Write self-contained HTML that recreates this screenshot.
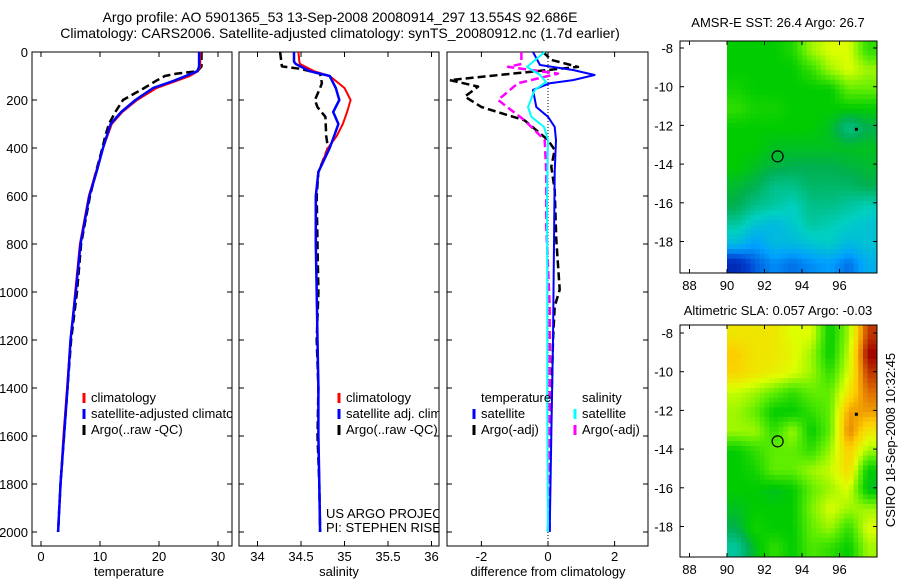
<!DOCTYPE html>
<html><head><meta charset="utf-8">
<style>
body{margin:0;background:#fff;}
svg{display:block;font-family:"Liberation Sans",sans-serif;}
text{font-size:13px;fill:#000;}
</style></head>
<body>
<svg id="fig" width="900" height="580" viewBox="0 0 900 580">
<defs>
<clipPath id="clip1"><rect x="32" y="52" width="200" height="494"/></clipPath>
<clipPath id="clip2"><rect x="239" y="52" width="200" height="494"/></clipPath>
</defs>
<text x="340" y="22" text-anchor="middle" style="font-size:14px">Argo profile: AO 5901365_53 13-Sep-2008 20080914_297 13.554S 92.686E</text>
<text x="340" y="38" text-anchor="middle" style="font-size:14px">Climatology: CARS2006. Satellite-adjusted climatology: synTS_20080912.nc (1.7d earlier)</text>
<text x="778" y="27" text-anchor="middle">AMSR-E SST: 26.4  Argo: 26.7</text>
<text x="778" y="315" text-anchor="middle">Altimetric SLA: 0.057  Argo: -0.03</text>
<text transform="translate(895,440) rotate(-90)" text-anchor="middle">CSIRO 18-Sep-2008 10:32:45</text>
<g id="g"></g>
</svg>
<script>
// ---------- profile data ----------
const tDepth = [0,20,60,80,100,120,150,200,250,300,400,500,600,800,1000,1200,1400,1600,1800,2000];
const tClim  = [27,27,27,26.6,25.2,23,19.6,16.3,13.8,12,10.5,9.3,8.1,6.6,5.8,5.0,4.4,3.8,3.3,2.9];
const tSat   = [26.8,26.8,26.8,26.5,24.5,22.5,19,16,13.6,11.8,10.5,9.4,8.2,6.7,5.9,5.0,4.5,3.9,3.3,2.9];
const aDepth = [0,60,80,90,100,120,150,200,250,300,350,400,500,600,800,1000,1200,1400,1600,1800,2000];
const tArgo  = [27.2,27.2,26.5,23,21,19.5,17.5,13.9,12.6,11.5,10.9,10.4,9.3,8.3,6.8,6.1,5.1,4.5,3.9,3.3,2.9];
const sDepth = [0,40,50,80,100,150,200,250,300,350,400,500,600,800,1000,1200,1400,1600,1800,2000];
const sClim  = [34.47,34.48,34.49,34.65,34.83,35.0,35.07,35.03,34.98,34.91,34.81,34.7,34.67,34.67,34.68,34.69,34.7,34.7,34.71,34.72];
const sSat   = [34.42,34.42,34.44,34.6,34.83,34.9,34.94,34.87,34.93,34.88,34.83,34.7,34.67,34.67,34.68,34.69,34.7,34.7,34.71,34.72];
const saDepth= [0,60,70,90,130,150,200,230,270,350,400,500,600,800,1000,1200,1400,1600,1800,2000];
const sArgo  = [34.26,34.28,34.49,34.72,34.74,34.72,34.66,34.69,34.78,34.79,34.81,34.7,34.68,34.69,34.7,34.68,34.7,34.69,34.71,34.72];
// differences from climatology
const dtsDepth=[0,54,75,96,117,130,158,229,270,312,367,500,800,1200,1600,2000];
const dTempSat=[-0.45,-0.24,0.75,1.4,0.75,0.06,-0.45,-0.35,0,0.2,0.24,0.2,0.18,0.15,0.1,0.05];
const dssDepth=[0,62,96,125,158,229,270,312,367,600,1000,1500,2000];
const dSalSat =[-0.1,-0.63,-0.24,-0.06,-0.4,-0.6,-0.5,-0.12,0,-0.03,-0.02,-0.02,0];
const dtaDepth=[0,33,62,117,144,186,229,285,367,408,478,576,783,990,1060,1200,1478,1686,2000];
const dTempArgo=[-0.15,0.1,0.9,-2.95,-2.1,-2.5,-2.0,-0.7,0,0.2,0.1,0.2,0.25,0.35,0.2,0.15,0.1,0.05,0];
const dsaDepth=[0,50,62,90,130,200,243,285,367,506,728,1060,1500,2000];
const dSalArgo=[-0.8,-0.8,-1.2,0.3,-0.9,-1.5,-1.1,-0.7,-0.1,-0.05,-0.05,0.05,0.05,0.05];
const depthTicks=[0,200,400,600,800,1000,1200,1400,1600,1800,2000];
const tempTicks=[0,10,20,30];
const salTicks=["34","34.5","35","35.5","36"];
const diffTicks=[-2,0,2];
// ---------- map data (1-degree cells, rows lat -8..-19, cols lon 90..97), colour index 0..10 ----------
const sstGrid=[
[5,5,5,5.3,6.5,7,7,5.5],
[5,5,5,5,5.5,6.5,7,6.5],
[5.2,5,5,5,5,5,6,6],
[5.5,5.2,5.2,5,5,5,5,5],
[5,5,5,5,5,4.8,4,4.5],
[5,5,4.8,4.8,4.8,4.8,4.8,4.8],
[5,4.8,4.6,4.5,4.5,4.5,4.6,4.7],
[4.7,4.5,4,4,4.3,4.3,4.3,4.5],
[4.5,4,3.8,3.5,4,4,3.8,3.6],
[3.8,3.2,3,3.3,3.8,3.6,3.4,3.2],
[3,2.5,3,3,3.2,3.4,3,3.2],
[1,1.8,2.3,2,2.3,2.5,2,2.8]];
const slaGrid=[
[7.5,7.5,7.5,7,7,5,6.5,9.5],
[8,7.5,7.5,7.2,6.5,5,6.8,10],
[7.8,7.5,7.3,7,6.5,5.5,7,9.5],
[6.8,6.5,6,5.5,6,6,7.5,9],
[6.5,6,5,5,5.5,6,8.5,8.5],
[6.5,6.5,5.5,6.5,5,6,8.8,7.5],
[5,5.5,6,6,5.5,6.5,8,6.5],
[5,5.2,6,6,6.5,6.8,7.8,5],
[5,5,4.8,5,6,6.5,7,4.8],
[4.8,5,5,5,6.2,7,6.5,6.5],
[4.5,5.2,5,5,6,6.5,5.5,7],
[3.8,4.8,5.5,5,5.8,5.5,5,6.5]];
const lonTicks=[88,90,92,94,96];
const latTicks=[-8,-10,-12,-14,-16,-18];
const floatLon=92.7, floatLat=-13.6;

const NS="http://www.w3.org/2000/svg";
const G=document.getElementById('g');
function el(tag,attrs,parent){const e=document.createElementNS(NS,tag);for(const k in attrs)e.setAttribute(k,attrs[k]);(parent||G).appendChild(e);return e;}
function txt(x,y,s,anchor,name,parent){const t=el('text',{x:x,y:y,'text-anchor':anchor||'middle'},parent);t.textContent=s;


return t;}

const PY0=52, PYB=546;
const yD=d=>PY0+d*0.24;
const xT=v=>41+5.9*v;
const xS=v=>257.5+87*(v-34);
const xDf=v=>548+33.3*v;

function panel(x0,x1,name){
  const r=el('rect',{x:x0,y:PY0,width:x1-x0,height:PYB-PY0,fill:'none',stroke:'#000','stroke-width':1});
  
  
  depthTicks.forEach(d=>{const y=yD(d);
    el('line',{x1:x0,x2:x0+5,y1:y,y2:y,stroke:'#000'});el('line',{x1:x1,x2:x1-5,y1:y,y2:y,stroke:'#000'});});
}
function xticks(vals,fx){vals.forEach(v=>{const x=fx(+v);
  el('line',{x1:x,x2:x,y1:PYB,y2:PYB-5,stroke:'#000'});el('line',{x1:x,x2:x,y1:PY0,y2:PY0+5,stroke:'#000'});
  txt(x,561,String(v),'middle','x-tick-label');});}
function series(depths,vals,fx,color,w,dash,name){
  const pts=depths.map((d,i)=>fx(vals[i]).toFixed(1)+','+yD(d).toFixed(1)).join(' ');
  const p=el('polyline',{points:pts,fill:'none',stroke:color,'stroke-width':w,'stroke-dasharray':dash||'none','stroke-linejoin':'round'});
  
  
}
// panel 1
panel(32,232,'temperature-panel');
depthTicks.forEach(d=>txt(28,yD(d)+5,String(d),'end','y-tick-label'));
xticks(tempTicks,xT);
txt(129,576,'temperature','middle','x-axis-title-temperature');
series(aDepth,tArgo,xT,'#000',2.5,'8,4','temperature-argo-line');
series(tDepth,tClim,xT,'#ff0000',2,null,'temperature-climatology-line');
series(tDepth,tSat,xT,'#0000ff',2.5,null,'temperature-satellite-line');
// panel 2
panel(239,439,'salinity-panel');
xticks(salTicks,xS);
txt(339,576,'salinity','middle','x-axis-title-salinity');
series(saDepth,sArgo,xS,'#000',2.5,'8,4','salinity-argo-line');
series(sDepth,sClim,xS,'#ff0000',2,null,'salinity-climatology-line');
series(sDepth,sSat,xS,'#0000ff',2.5,null,'salinity-satellite-line');
// panel 3
panel(447,648,'difference-panel');
xticks(diffTicks,xDf);
el('line',{x1:xDf(0),x2:xDf(0),y1:PY0,y2:PYB,stroke:'#000','stroke-dasharray':'1,2'});
txt(548,576,'difference from climatology','middle','x-axis-title-difference');
series(dtaDepth,dTempArgo,xDf,'#000',2.5,'8,4','temp-argo-diff-line');
series(dsaDepth,dSalArgo,xDf,'#ff00ff',2.5,'8,4','sal-argo-diff-line');
series(dtsDepth,dTempSat,xDf,'#0000ff',2,null,'temp-satellite-diff-line');
series(dssDepth,dSalSat,xDf,'#00ffff',2,null,'sal-satellite-diff-line');
// legends
const c1=el('g',{'clip-path':'url(#clip1)'});
const c2=el('g',{'clip-path':'url(#clip2)'});
function leg(x,y,color,label,name,parent){
  const l=el('line',{x1:x,x2:x,y1:y-9,y2:y+1,stroke:color,'stroke-width':3},parent);
  
  
  txt(x+7,y,label,'start',name,parent);
}
leg(84,402,'#ff0000','climatology','legend-climatology',c1);
leg(84,418,'#0000ff','satellite-adjusted climatology','legend-satellite-adjusted',c1);
leg(84,434,'#000','Argo(..raw -QC)','legend-argo',c1);
leg(339,402,'#ff0000','climatology','legend-sal-climatology',c2);
leg(339,418,'#0000ff','satellite adj. clim.','legend-sal-satellite',c2);
leg(339,434,'#000','Argo(..raw -QC)','legend-sal-argo',c2);
txt(481,402,'temperature','start','legend-temperature-heading');
leg(474,418,'#0000ff','satellite','legend-temp-satellite');
leg(474,434,'#000','Argo(-adj)','legend-temp-argo');
txt(582,402,'salinity','start','legend-salinity-heading');
leg(575,418,'#00ffff','satellite','legend-sal-sat');
leg(575,434,'#ff00ff','Argo(-adj)','legend-sal-argo-adj');
txt(326,518,'US ARGO PROJECT','start','project-label',c2);
txt(326,532,'PI: STEPHEN RISER','start','pi-label',c2);

// ---------- maps ----------
const stops=[[0,[0,0,128]],[1.5,[0,64,208]],[2.5,[0,160,255]],[3.5,[0,208,192]],[4.5,[0,176,80]],[5,[0,204,0]],[6,[96,238,0]],[7,[221,255,0]],[8,[255,204,0]],[9,[224,112,0]],[10,[160,0,0]]];
function cmap(v){for(let i=1;i<stops.length;i++){if(v<=stops[i][0]){const a=stops[i-1],b=stops[i],f=(v-a[0])/(b[0]-a[0]);
  return 'rgb('+a[1].map((c,j)=>Math.round(c+(b[1][j]-c)*f)).join(',')+')';}}return 'rgb(160,0,0)';}
function sample(grid,r,c){ // bilinear over cell centres
  const R=grid.length,C=grid[0].length;
  r=Math.max(0,Math.min(R-1,r));c=Math.max(0,Math.min(C-1,c));
  const r0=Math.floor(r),c0=Math.floor(c),r1=Math.min(R-1,r0+1),c1=Math.min(C-1,c0+1),fr=r-r0,fc=c-c0;
  return grid[r0][c0]*(1-fr)*(1-fc)+grid[r0][c1]*(1-fr)*fc+grid[r1][c0]*fr*(1-fc)+grid[r1][c1]*fr*fc;
}
function map(top,bot,lat8y,grid,name){
  const x0=680,x1=877;
  const xL=lon=>727+18.75*(lon-90);
  const yL=lat=>lat8y+19.35*(-8-lat);
  const topLat=-8+(lat8y-top)/19.35;
  const g=el('g',{});
  
  
  const S=4;
  for(let r=0;r<grid.length*S;r++)for(let c=0;c<grid[0].length*S;c++){
    const v=sample(grid,(r+0.5)/S-0.5,(c+0.5)/S-0.5);
    const la0=topLat-r/S, ya=yL(la0), yb=Math.min(yL(la0-1/S),bot);
    const xa=xL(90+c/S), xb=Math.min(xL(90+(c+1)/S),x1);
    if(yb<=ya||xb<=xa)continue;
    el('rect',{x:xa,y:ya,width:xb-xa+0.4,height:yb-ya+0.4,fill:cmap(v)},g);
  }
  el('rect',{x:x0,y:top,width:x1-x0,height:bot-top,fill:'none',stroke:'#000'});
  lonTicks.forEach(l=>{const x=xL(l);el('line',{x1:x,x2:x,y1:bot,y2:bot-4,stroke:'#000'});el('line',{x1:x,x2:x,y1:top,y2:top+4,stroke:'#000'});
    txt(x,bot+17,String(l),'middle','map-lon-tick');});
  latTicks.forEach(l=>{const y=yL(l);el('line',{x1:x0,x2:x0+4,y1:y,y2:y,stroke:'#000'});el('line',{x1:x1,x2:x1-4,y1:y,y2:y,stroke:'#000'});
    txt(673,y+5,String(l),'end','map-lat-tick');});
  const c=el('circle',{cx:xL(floatLon),cy:yL(floatLat),r:5.5,fill:'none',stroke:'#000','stroke-width':1.2});
  
  
  el('rect',{x:xL(96.9)-1.5,y:yL(-12.2)-1.5,width:3,height:3,fill:'#000'});
}
map(41,273,48,sstGrid,'sst-map');
map(325,557,333,slaGrid,'sla-map');
</script>
</body></html>
